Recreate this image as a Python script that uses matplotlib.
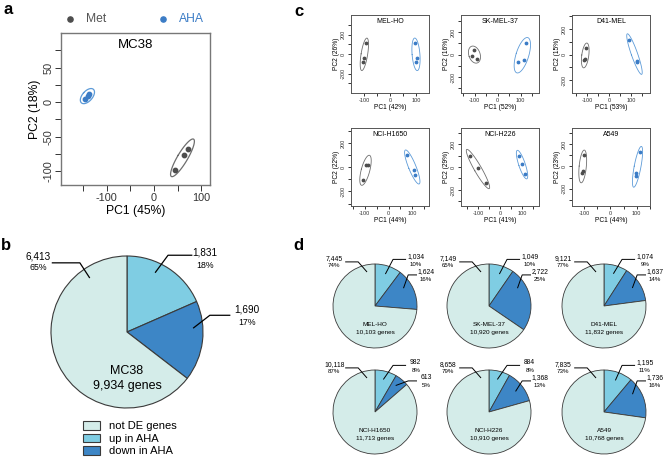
import numpy as np
import matplotlib
matplotlib.use('Agg')
import matplotlib.pyplot as plt

plt.rcParams['font.family'] = ['Liberation Sans', 'DejaVu Sans']
plt.rcParams['axes.unicode_minus'] = False

# ---- data ----
# panel a: MC38 PCA
mc38_met_pc1 = [45, 64, 71]
mc38_met_pc2 = [-98, -76, -68]
mc38_aha_pc1 = [-145, -140, -136]
mc38_aha_pc2 = [5, 9, 12]

# panel b: MC38 DE genes (up, down, not DE)
mc38_counts = [1831, 1690, 6413]
mc38_pcts = [18, 17, 65]
mc38_total = '9,934'
pie_labels = ['not DE genes', 'up in AHA', 'down in AHA']

# panel c: human cell lines PCA
cell_lines = ['MEL-HO', 'SK-MEL-37', 'D41-MEL', 'NCI-H1650', 'NCI-H226', 'A549']
pc1_var = [42, 52, 53, 44, 41, 44]
pc2_var = [26, 16, 15, 22, 29, 23]
met_pc1 = [[-92, -100, -104], [-104, -110, -90], [-105, -114, -110],
           [-96, -87, -108], [-136, -100, -64], [-102, -106, -110]]
met_pc2 = [[110, -40, -80], [43, -9, -35], [55, -39, -35],
           [17, 17, -108], [98, -9, -142], [100, -45, -55]]
aha_pc1 = [[96, 104, 100], [122, 87, 113], [91, 127, 125],
           [79, 108, 112], [86, 100, 114], [114, 98, 98]]
aha_pc2 = [[110, -40, -80], [104, -70, -52], [118, -55, -50],
           [100, -25, -67], [98, 27, -62], [127, -55, -82]]

# panel d: DE genes per cell line
up_counts = [1034, 1049, 1074, 982, 884, 1195]
down_counts = [1624, 2722, 1637, 613, 1368, 1736]
notde_counts = [7445, 7149, 9121, 10118, 8658, 7835]
up_pct = [10, 10, 9, 8, 8, 11]
down_pct = [16, 25, 14, 5, 13, 16]
notde_pct = [74, 65, 77, 87, 79, 73]
gene_totals = ['10,103', '10,920', '11,832', '11,713', '10,910', '10,768']

# colours
met_col = '#4d4d4d'
aha_col = '#3b7cc6'
met_ell = '#6e6e6e'
aha_ell = '#5d9bd8'
pie_cols = ['#7fcde3', '#3d86c6', '#d4ece9']  # up, down, not DE

W, H = 670, 470
fig = plt.figure(figsize=(W / 100, H / 100), dpi=100)


def px_rect(left, top, width, height):
    return [left / W, 1 - (top + height) / H, width / W, height / H]


def draw_ellipse(ax, xs, ys, color, lw, pad):
    # fit the ellipse in screen pixels so it hugs the points like the original
    x0, x1 = ax.get_xlim()
    y0, y1 = ax.get_ylim()
    box = ax.get_position()
    sx = box.width * W / (x1 - x0)
    sy = box.height * H / (y1 - y0)
    p = np.column_stack([np.array(xs) * sx, np.array(ys) * sy])
    c = p.mean(axis=0)
    q = p - c
    vals, vecs = np.linalg.eigh(np.cov(q.T))
    proj = q @ vecs
    half = np.abs(proj).max(axis=0) * 1.2 + pad
    t = np.linspace(0, 2 * np.pi, 120)
    pts = c + np.column_stack([half[0] * np.cos(t), half[1] * np.sin(t)]) @ vecs.T
    ax.plot(pts[:, 0] / sx, pts[:, 1] / sy, color=color, lw=lw)


def pca_axes(ax, mx, my, ax_, ay, title, v1, v2, xlim, ylim, big):
    ax.set_xlim(xlim)
    ax.set_ylim(ylim)
    if big:
        fs_tick, fs_lab, fs_title, ms, lw, pad, tl = 7.8, 8.7, 9.5, 10, 0.9, 5, 4
    else:
        fs_tick, fs_lab, fs_title, ms, lw, pad, tl = 4.0, 4.8, 5.0, 3, 0.6, 3, 2
    ax.scatter(mx, my, s=ms, color=met_col, zorder=3)
    ax.scatter(ax_, ay, s=ms, color=aha_col, zorder=3)
    draw_ellipse(ax, mx, my, met_ell, lw, pad)
    draw_ellipse(ax, ax_, ay, aha_ell, lw, pad)
    for s in ax.spines.values():
        s.set_color('#777777' if big else '#555555')
        s.set_linewidth(1.0 if big else 0.7)
    ax.tick_params(which='both', direction='out', length=tl, width=0.7,
                   labelsize=fs_tick, pad=1.5, colors='#333333')
    ax.tick_params(axis='y', labelrotation=90)
    ax.set_xlabel('PC1 (%d%%)' % v1, fontsize=fs_lab, labelpad=2 if big else 1)
    ax.set_ylabel('PC2 (%d%%)' % v2, fontsize=fs_lab, labelpad=2 if big else 1)
    ax.text(0.5, 0.92, title, transform=ax.transAxes, ha='center', va='center',
            fontsize=fs_title)


def set_ticks(ax, xmaj, xmin, ymaj, ymin):
    ax.set_xticks(xmaj)
    ax.set_xticks(xmin, minor=True)
    ax.set_yticks(ymaj)
    ax.set_yticks(ymin, minor=True)
    for lab in ax.get_yticklabels():
        lab.set_va('center')


# ---- panel a ----
ax_a = fig.add_axes(px_rect(61, 33, 149, 152))
pca_axes(ax_a, mc38_met_pc1, mc38_met_pc2, mc38_aha_pc1, mc38_aha_pc2, 'MC38',
         45, 18, (-196, 118), (-120, 100), True)
set_ticks(ax_a, [-100, 0, 100], [-150, -50, 50], [-100, -50, 0, 50], [-75, -25, 25, 75])
h1 = ax_a.scatter([], [], s=14, color=met_col)
h2 = ax_a.scatter([], [], s=14, color=aha_col)
leg = fig.legend([h1, h2], ['Met', 'AHA'], ncol=2, loc='center',
                 bbox_to_anchor=(134 / W, 1 - 19 / H), frameon=False,
                 fontsize=8.7, handlelength=1.0, handletextpad=0.8,
                 columnspacing=4.2, scatterpoints=1, borderpad=0)
for txt, col in zip(leg.get_texts(), ['#555555', aha_col]):
    txt.set_color(col)


# ---- pies ----
def pie_axes(cx, cy, r, a):
    return fig.add_axes(px_rect(cx - a * r, cy - a * r, 2 * a * r, 2 * a * r))


def draw_pie(ax, counts, a, lw_edge):
    wedges, _ = ax.pie(counts, colors=pie_cols, startangle=90, counterclock=False,
                       wedgeprops=dict(edgecolor='#3a3a3a', linewidth=lw_edge))
    ax.set_xlim(-a, a)
    ax.set_ylim(-a, a)
    return wedges


def leader(ax, end, elbow, hend, lw):
    ax.plot([end[0], elbow[0], hend[0]], [end[1], elbow[1], hend[1]],
            color='black', lw=lw, clip_on=False, solid_capstyle='butt')


# panel b
ab = 1.75
ax_b = pie_axes(127, 332, 76, ab)
wedges = draw_pie(ax_b, mc38_counts, ab, 0.8)
b_end = [(0.37, 0.78), (0.87, 0.05), (-0.49, 0.71)]
b_elbow = [(0.54, 1.01), (1.09, 0.22), (-0.62, 0.91)]
b_hend = [(0.86, 1.01), (1.36, 0.22), (-0.99, 0.91)]
b_tx = [1.03, 1.58, -1.17]
b_ny = [1.04, 0.29, 1.0]
b_py = [0.88, 0.13, 0.85]
for i in range(3):
    leader(ax_b, b_end[i], b_elbow[i], b_hend[i], 0.9)
    ax_b.text(b_tx[i], b_ny[i], '{:,}'.format(mc38_counts[i]), ha='center',
              va='center', fontsize=7.2)
    ax_b.text(b_tx[i], b_py[i], '%d%%' % mc38_pcts[i], ha='center',
              va='center', fontsize=6.3)
ax_b.text(0, -0.51, 'MC38', ha='center', va='center', fontsize=9)
ax_b.text(0, -0.71, mc38_total + ' genes', ha='center', va='center', fontsize=9)
fig.legend([wedges[2], wedges[0], wedges[1]], pie_labels, loc='upper left',
           bbox_to_anchor=(83 / W, 1 - 421 / H), frameon=False, fontsize=8,
           handlelength=1.5, handleheight=0.8, handletextpad=0.8,
           labelspacing=0.22, borderpad=0, borderaxespad=0)

# panel c
c_left = [351, 461, 572, 351, 461, 572]
c_top = [15, 15, 15, 128, 128, 128]
c_xlim = [(-150, 150), (-160, 180), (-170, 185), (-158, 170), (-177, 177), (-147, 151)]
c_ylim = [(-400, 400), (-340, 350), (-300, 310), (-320, 325), (-340, 340), (-355, 345)]
for i in range(6):
    ax = fig.add_axes(px_rect(c_left[i], c_top[i], 78, 78))
    pca_axes(ax, met_pc1[i], met_pc2[i], aha_pc1[i], aha_pc2[i], cell_lines[i],
             pc1_var[i], pc2_var[i], c_xlim[i], c_ylim[i], False)
    xmin = [v for v in (-150, -50, 50, 150) if c_xlim[i][0] < v < c_xlim[i][1]]
    ymin = [v for v in (-300, -100, 100, 300) if c_ylim[i][0] < v < c_ylim[i][1]]
    set_ticks(ax, [-100, 0, 100], xmin, [-200, 0, 200], ymin)

# panel d
d_cx = [375, 489, 604, 375, 489, 604]
d_cy = [306, 306, 306, 412, 412, 412]
ad = 1.6
for i in range(6):
    ax = pie_axes(d_cx[i], d_cy[i], 42, ad)
    counts = [up_counts[i], down_counts[i], notde_counts[i]]
    pcts = [up_pct[i], down_pct[i], notde_pct[i]]
    draw_pie(ax, counts, ad, 0.6)
    ang_up = np.deg2rad(min(up_pct[i] * 1.8, 22))
    ang_dn = np.deg2rad(np.clip((up_pct[i] + down_pct[i] / 2) * 3.6, 38, 58))
    ends = [(0.8 * np.sin(ang_up), 0.8 * np.cos(ang_up)),
            (0.8 * np.sin(ang_dn), 0.8 * np.cos(ang_dn)),
            (-0.19, 0.81)]
    elbows = [(0.43, 1.11), (0.79, 0.74), (-0.40, 1.05)]
    hends = [(0.74, 1.11), (1.0, 0.74), (-0.71, 1.05)]
    tx = [0.97, 1.21, -0.97]
    ny = [1.17, 0.81, 1.12]
    py = [0.99, 0.62, 0.96]
    for j in range(3):
        leader(ax, ends[j], elbows[j], hends[j], 0.7)
        ax.text(tx[j], ny[j], '{:,}'.format(counts[j]), ha='center', va='center',
                fontsize=4.9)
        ax.text(tx[j], py[j], '%d%%' % pcts[j], ha='center', va='center',
                fontsize=4.4)
    ax.text(0, -0.45, cell_lines[i], ha='center', va='center', fontsize=4.6)
    ax.text(0, -0.64, gene_totals[i] + ' genes', ha='center', va='center',
            fontsize=4.6)

# panel letters
for letter, x, y in [('a', 8, 9), ('b', 6, 246), ('c', 299, 11), ('d', 298, 245)]:
    fig.text(x / W, 1 - y / H, letter, fontsize=12, fontweight='bold',
             ha='center', va='center')

fig.savefig('out.png', dpi=100)
